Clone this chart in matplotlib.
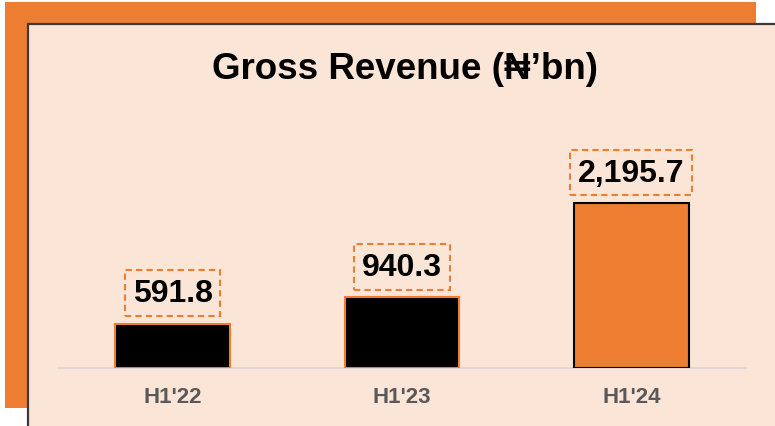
import matplotlib.pyplot as plt
from matplotlib.patches import Rectangle

# data
periods = ["H1'22", "H1'23", "H1'24"]
revenue = [591.8, 940.3, 2195.7]
value_labels = ["591.8", "940.3", "2,195.7"]

orange = '#ED7D31'
peach = '#FBE5D6'
fonts = ['Liberation Sans', 'DejaVu Sans']

plt.rcParams['font.family'] = fonts

fig = plt.figure(figsize=(7.75, 4.27), dpi=100)
fig.patch.set_facecolor('white')

# orange block behind the panel
fig.add_artist(Rectangle((5/775, 18/427), 751/775, 406/427, transform=fig.transFigure,
                         facecolor=orange, edgecolor='none', zorder=-10))
# peach panel with dark border (only left/top visible)
fig.add_artist(Rectangle((28/775, -0.05), 1.0, (427-25)/427 + 0.05, transform=fig.transFigure,
                         facecolor=peach, edgecolor='#3A3A3A', lw=1.6, zorder=-9))

fig.text(405/775, 1 - 79/427, "Gross Revenue (₦’bn)", ha='center', va='baseline',
         fontsize=26.5, fontweight='bold', color='black', family=fonts)

ax = fig.add_axes([58/775, 58/427, 688/775, 219/427])
ax.set_facecolor('none')

x = list(range(len(periods)))
face = ['black', 'black', orange]
edge = [orange, orange, 'black']
ax.bar(x, revenue, width=0.5, color=face, edgecolor=edge, linewidth=1.5, zorder=3)

for xi, v, lab in zip(x, revenue, value_labels):
    ax.annotate(lab, (xi, v), xytext=(0, 22), textcoords='offset points',
                ha='center', va='center', fontsize=23, fontweight='bold', color='black',
                bbox=dict(boxstyle='square,pad=0.24', facecolor='none', edgecolor=orange,
                          linestyle=(0, (3, 2)), linewidth=1.5))

ax.set_xlim(-0.5, 2.5)
ax.set_ylim(0, 2920)
ax.set_xticks(x)
ax.set_xticklabels(periods, fontsize=16, fontweight='bold', color='#595959')
ax.tick_params(axis='x', length=0, pad=13)
ax.set_yticks([])
for s in ['top', 'right', 'left']:
    ax.spines[s].set_visible(False)
ax.spines['bottom'].set_color('#D9D9D9')
ax.spines['bottom'].set_linewidth(1.5)

fig.savefig('out.png', dpi=100, facecolor='white')
